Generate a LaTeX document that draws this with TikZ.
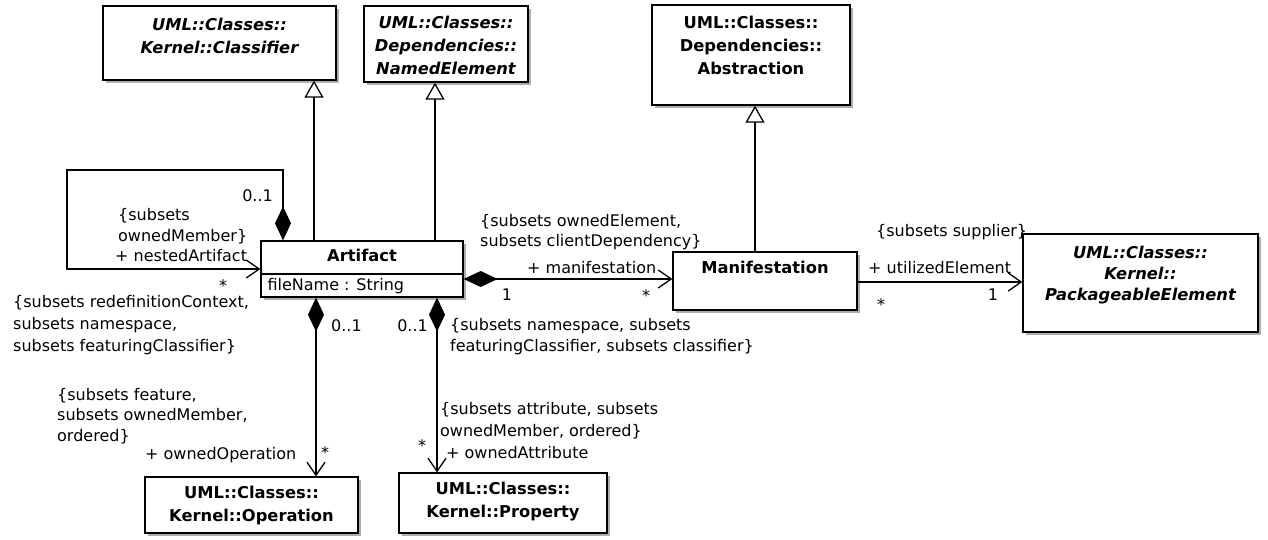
\documentclass[tikz,border=0pt]{standalone}
\usepackage{fontspec}
\setmainfont{DejaVu Sans}
\usetikzlibrary{arrows.meta,positioning,shadows}

\newcommand{\umlsize}{\fontsize{16}{21}\selectfont}
\newcommand{\umltitle}{\fontsize{16.3}{23}\selectfont\bfseries}

\tikzset{
  cls/.style={draw, line width=1.3pt, fill=white, inner sep=0pt,
    drop shadow={shadow xshift=2.5pt, shadow yshift=-2.5pt, fill=black!45, opacity=.7}},
  title/.style={inner sep=0pt, align=center, font=\umltitle},
  abstitle/.style={title, font=\umltitle\itshape},
  lbl/.style={inner sep=0pt, anchor=west, align=left},
  mult/.style={inner sep=0pt},
  assoc/.style={line width=1.3pt},
  gen/.style={assoc, -{Triangle[open, fill=white, length=17pt, width=19pt]}},
  nav/.style={assoc, -{Straight Barb[length=13pt, width=18pt]}},
  comp/.style={assoc, {Diamond[length=34pt, width=16pt]}-{Straight Barb[length=13pt, width=18pt]}},
}

\begin{document}
\begin{tikzpicture}[x=1pt, y=-1pt, font=\umlsize]
\useasboundingbox (0,0) rectangle (1268,539);

% classes
\node[cls, minimum width=233pt, minimum height=74pt] (classifier) at (219.5,43) {};
\node[abstitle, below=13pt of classifier.north] (classifiername) {UML::Classes::\\Kernel::Classifier};

\node[cls, minimum width=164pt, minimum height=76pt] (namedel) at (446,44) {};
\node[abstitle, below=11pt of namedel.north] (namedelname) {UML::Classes::\\Dependencies::\\NamedElement};

\node[cls, minimum width=198pt, minimum height=100pt] (abstr) at (751,55) {};
\node[title, below=12pt of abstr.north] (abstrname) {UML::Classes::\\Dependencies::\\Abstraction};

\node[cls, minimum width=202pt, minimum height=56pt] (art) at (362,269) {};
\node[title, below=9pt of art.north] (artname) {Artifact};
\draw[assoc] ([yshift=-5pt]art.west) -- ([yshift=-5pt]art.east);
\node[lbl, right=7pt of art.west, yshift=-17pt] (artattr) {fileName : String};

\node[cls, minimum width=184pt, minimum height=58pt] (manif) at (765,281) {};
\node[title, below=10pt of manif.north] (manifname) {Manifestation};

\node[cls, minimum width=235pt, minimum height=98pt] (pkgel) at (1140.5,283) {};
\node[abstitle, below=13pt of pkgel.north, font=\fontsize{16.3}{21}\selectfont\bfseries\itshape] (pkgelname) {UML::Classes::\\Kernel::\\PackageableElement};

\node[cls, minimum width=213pt, minimum height=56pt] (oper) at (251.5,505) {};
\node[title, below=10pt of oper.north] (opername) {UML::Classes::\\Kernel::Operation};

\node[cls, minimum width=208pt, minimum height=60pt] (prop) at (503,503) {};
\node[title, below=10pt of prop.north] (propname) {UML::Classes::\\Kernel::Property};

% generalizations
\draw[gen] ([xshift=-48pt]art.north) -- ([xshift=-48pt]art.north |- classifier.south);
\draw[gen] ([xshift=73pt]art.north) -- ([xshift=73pt]art.north |- namedel.south);
\draw[gen] ([xshift=-10pt]manif.north) -- ([xshift=-10pt]manif.north |- abstr.south);

% associations
\coordinate (loopcorner) at (67,170);
\draw[comp] ([xshift=-79pt]art.north) |- (loopcorner) |- (art.west);
\draw[comp] ([yshift=-10pt]art.east) -- ([yshift=-10pt]art.east -| manif.west);
\draw[nav] ([yshift=-1pt]manif.east) -- ([yshift=-1pt]manif.east -| pkgel.west);
\draw[comp] ([xshift=-46pt]art.south) -- ([xshift=-46pt]art.south |- oper.north);
\draw[comp] ([xshift=75pt]art.south) -- ([xshift=75pt]art.south |- prop.north);

% nestedArtifact
\node[mult, anchor=east] (nestowner) at (273,196) {0..1};
\node[lbl] (nestsubsets) at (118,226) {\{subsets\\ownedMember\}};
\node[lbl] (nestrole) at (115,256) {+ nestedArtifact};
\node[mult] (nestmult) at (223,286) {*};
\node[lbl, font=\fontsize{16}{22}\selectfont] (nestctx) at (13,325) {\{subsets redefinitionContext,\\subsets namespace,\\subsets featuringClassifier\}};

% ownedOperation
\node[lbl] (opowner) at (331,326) {0..1};
\node[lbl, font=\fontsize{16}{20.5}\selectfont] (opsubsets) at (57,416) {\{subsets feature,\\subsets ownedMember,\\ordered\}};
\node[lbl] (oprole) at (145,455) {+ ownedOperation};
\node[mult] (opmult) at (325,453) {*};

% ownedAttribute
\node[mult, anchor=east] (propowner) at (428,326) {0..1};
\node[lbl] (propctx) at (450,337) {\{subsets namespace, subsets\\featuringClassifier, subsets classifier\}};
\node[lbl, font=\fontsize{16}{22}\selectfont] (propsubsets) at (440,421) {\{subsets attribute, subsets\\ownedMember, ordered\}};
\node[lbl] (proprole) at (446,453) {+ ownedAttribute};
\node[mult] (propmult) at (422,446) {*};

% manifestation
\node[lbl, font=\fontsize{16}{20}\selectfont] (manifsubsets) at (480,232) {\{subsets ownedElement,\\subsets clientDependency\}};
\node[lbl] (manifrole) at (527,268) {+ manifestation};
\node[mult] (manifowner) at (507,295) {1};
\node[mult] (manifmult) at (646,296) {*};

% utilizedElement
\node[lbl] (utilsubsets) at (876,232) {\{subsets supplier\}};
\node[lbl] (utilrole) at (868,268) {+ utilizedElement};
\node[mult] (utilmult) at (881,305) {*};
\node[mult] (utilowner) at (993,295) {1};
\end{tikzpicture}
\end{document}
